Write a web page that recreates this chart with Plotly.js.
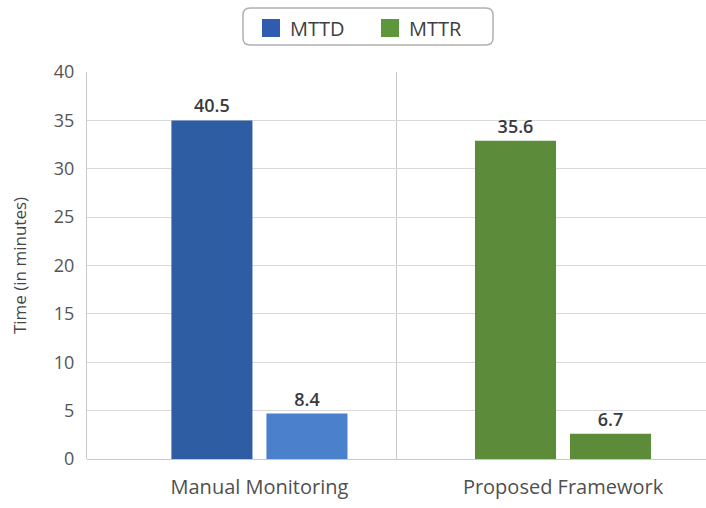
<!DOCTYPE html>
<html><head><meta charset="utf-8">
<script src="https://cdn.plot.ly/plotly-3.0.1.min.js"></script>
<style>html,body{margin:0;padding:0;background:#fff}</style>
</head><body><div id="chart" style="width:706px;height:508px"></div>
<script>
const categories = ["Manual Monitoring", "Proposed Framework"];
const seriesNames = ["MTTD", "MTTR"];
// bar heights as drawn in the picture
const mttdHeights = [35.0, 32.9];
const mttrHeights = [4.7, 2.6];
// value labels printed above bars
const mttdLabels = ["40.5", "35.6"];
const mttrLabels = ["8.4", "6.7"];
const yTicks = [0, 5, 10, 15, 20, 25, 30, 35, 40];

const mttdColors = ["#2e5da3", "#5c8c3a"];
const mttrColors = ["#4a80cc", "#5c8c3a"];
const legendColors = ["#2f5cb0", "#5e963b"];

const W = 706, H = 508, ML = 87, MR = 0, MT = 72, MB = 49;
const PW = W - ML - MR, PH = H - MT - MB;
const px = x => (x - ML) / PW;
const py = y => (H - MB - y) / PH;

const FAM = "Open Sans, Noto Sans, sans-serif";
const textFont = {family: FAM, size: 18, color: "#3a3a3a", weight: 600};

const traces = [
  {type: "bar", name: seriesNames[0], x: categories, y: mttdHeights, text: mttdLabels,
   textposition: "outside", textfont: textFont, cliponaxis: false,
   marker: {color: mttdColors}, showlegend: false, hoverinfo: "skip"},
  {type: "bar", name: seriesNames[1], x: categories, y: mttrHeights, text: mttrLabels,
   textposition: "outside", textfont: textFont, cliponaxis: false,
   marker: {color: mttrColors}, showlegend: false, hoverinfo: "skip"}
];

// rounded legend box (paper coordinates)
const bx0 = px(243), bx1 = px(493), by0 = py(8), by1 = py(45);
const rx = 7 / PW, ry = 7 / PH;
const boxPath = [
  `M ${bx0 + rx} ${by0}`, `L ${bx1 - rx} ${by0}`, `Q ${bx1} ${by0} ${bx1} ${by0 - ry}`,
  `L ${bx1} ${by1 + ry}`, `Q ${bx1} ${by1} ${bx1 - rx} ${by1}`,
  `L ${bx0 + rx} ${by1}`, `Q ${bx0} ${by1} ${bx0} ${by1 + ry}`,
  `L ${bx0} ${by0 - ry}`, `Q ${bx0} ${by0} ${bx0 + rx} ${by0}`, "Z"
].join(" ");

const shapes = [
  {type: "line", xref: "paper", yref: "paper", x0: 0.5, x1: 0.5, y0: 0, y1: 1,
   line: {color: "#c8c8c8", width: 1}, layer: "below"},
  {type: "path", xref: "paper", yref: "paper", path: boxPath,
   line: {color: "#b0b0b0", width: 1.5}, fillcolor: "rgba(0,0,0,0)"},
  {type: "rect", xref: "paper", yref: "paper", x0: px(262), x1: px(280), y0: py(19), y1: py(37),
   fillcolor: legendColors[0], line: {width: 0}},
  {type: "rect", xref: "paper", yref: "paper", x0: px(381), x1: px(399), y0: py(19), y1: py(37),
   fillcolor: legendColors[1], line: {width: 0}}
];

const legFont = {family: FAM, size: 20, color: "#404040"};
const annotations = [
  {xref: "paper", yref: "paper", x: px(288), y: py(28), xanchor: "left", yanchor: "middle",
   text: seriesNames[0], showarrow: false, font: legFont},
  {xref: "paper", yref: "paper", x: px(407), y: py(28), xanchor: "left", yanchor: "middle",
   text: seriesNames[1], showarrow: false, font: legFont}
];

const layout = {
  width: W, height: H,
  margin: {l: ML, r: MR, t: MT, b: MB, pad: 0},
  paper_bgcolor: "#fff", plot_bgcolor: "#fff",
  barmode: "group", bargap: 0.374, bargroupgap: 0.147,
  showlegend: false,
  font: {family: FAM, color: "#555"},
  xaxis: {type: "category", range: [-0.568, 1.471], showgrid: false, zeroline: false,
    showline: false, ticks: "", ticklabelstandoff: 14, tickfont: {size: 20, color: "#505050"},
    fixedrange: true},
  yaxis: {range: [0, 40], tickvals: yTicks, showgrid: true, gridcolor: "#d9d9d9", gridwidth: 1,
    zeroline: true, zerolinecolor: "#c8c8c8", showline: true, linecolor: "#c8c8c8",
    ticks: "", ticklabelstandoff: 8, tickfont: {size: 18, color: "#555"},
    title: {text: "Time (in minutes)", font: {size: 17, color: "#454545"}, standoff: 22},
    automargin: false, fixedrange: true},
  shapes: shapes,
  annotations: annotations
};

Plotly.newPlot("chart", traces, layout, {displayModeBar: false, staticPlot: true});
</script></body></html>
